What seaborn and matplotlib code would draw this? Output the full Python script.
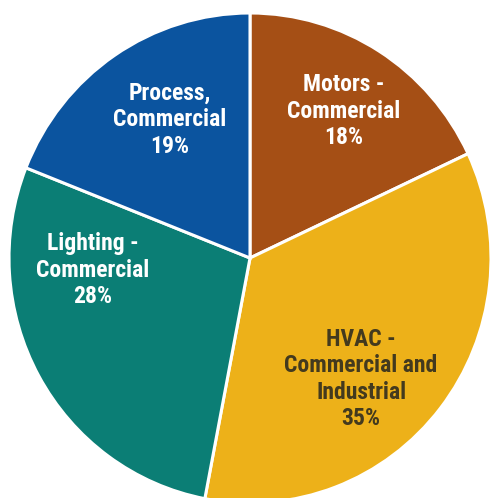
import matplotlib
matplotlib.use("Agg")
import matplotlib.pyplot as plt
import seaborn as sns

categories = ["Motors -\nCommercial", "HVAC -\nCommercial and\nIndustrial",
              "Lighting -\nCommercial", "Process,\nCommercial"]
shares = [18, 35, 28, 19]
colors = ["#A54F15", "#EDB119", "#0B7E75", "#0B549F"]
text_colors = ["white", "#433a1e", "white", "white"]
# label anchor positions (axes-data units, pie radius = 1)
label_pos = [(0.39, 0.60), (0.461, -0.494), (-0.651, -0.049), (-0.332, 0.565)]

sns.set_theme(style="white")
palette = sns.color_palette(colors)

fig = plt.figure(figsize=(4.91, 4.98), dpi=100)
ax = fig.add_axes([0, 0, 1, 1])
ax.pie(shares, colors=palette, startangle=90, counterclock=False, radius=1.0,
       wedgeprops=dict(edgecolor="white", linewidth=2.2))
ax.set_xlim(-250 / 241, 241 / 241)
ax.set_ylim(-240 / 245, 258 / 245)
ax.set_aspect("auto")
ax.axis("off")

for cat, val, (x, y), tc in zip(categories, shares, label_pos, text_colors):
    ax.text(x, y, f"{cat}\n{val}%", ha="center", va="center", color=tc,
            fontsize=17, fontweight="bold",
            family=["Roboto Condensed", "Liberation Sans", "DejaVu Sans"],
            linespacing=1.2)

fig.savefig("out.png", dpi=100)
